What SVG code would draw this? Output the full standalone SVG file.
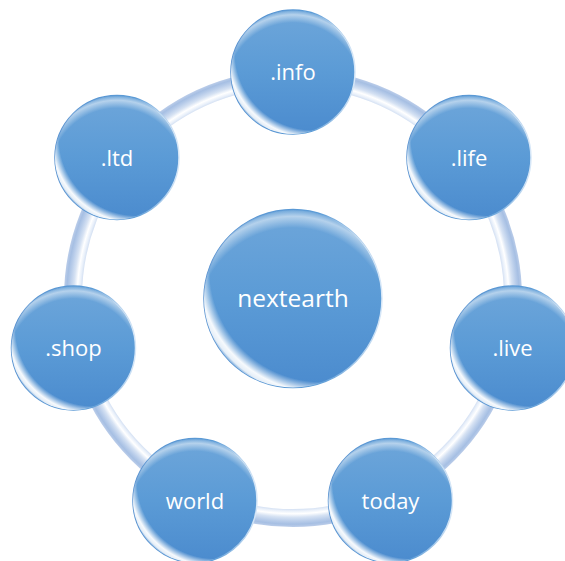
<svg xmlns="http://www.w3.org/2000/svg" width="565" height="561" viewBox="0 0 565 561">
  <defs>
    <!-- tube shading across the ring, measured outward from the hub -->
    <radialGradient id="tube" gradientUnits="userSpaceOnUse" cx="293" cy="298" r="232">
      <stop offset="0.905" stop-color="#c9d8ef"/>
      <stop offset="0.918" stop-color="#e9f0fa"/>
      <stop offset="0.930" stop-color="#ffffff"/>
      <stop offset="0.945" stop-color="#d6e2f3"/>
      <stop offset="0.962" stop-color="#b9cdea"/>
      <stop offset="0.975" stop-color="#a6bfe3"/>
      <stop offset="0.985" stop-color="#b7cae8"/>
    </radialGradient>
    <!-- bubble body -->
    <linearGradient id="body" x1="0" y1="0" x2="0" y2="1">
      <stop offset="0" stop-color="#6ea6da"/>
      <stop offset="0.5" stop-color="#5b9bd6"/>
      <stop offset="1" stop-color="#4b8bce"/>
    </linearGradient>
    <!-- top crescent sheen -->
    <radialGradient id="sheenTop" cx="0.5" cy="0.64" r="0.64">
      <stop offset="0.84" stop-color="#ffffff" stop-opacity="0"/>
      <stop offset="0.94" stop-color="#ffffff" stop-opacity="0.5"/>
      <stop offset="0.985" stop-color="#ffffff" stop-opacity="0.1"/>
      <stop offset="1" stop-color="#ffffff" stop-opacity="0"/>
    </radialGradient>
    <!-- lower-left glossy reflection -->
    <radialGradient id="sheenLow" cx="0.66" cy="0.34" r="0.73">
      <stop offset="0.86" stop-color="#ffffff" stop-opacity="0"/>
      <stop offset="0.94" stop-color="#ffffff" stop-opacity="0.95"/>
      <stop offset="0.975" stop-color="#ffffff" stop-opacity="0.85"/>
      <stop offset="1" stop-color="#ffffff" stop-opacity="0.15"/>
    </radialGradient>
    <!-- rim: pale on the right side -->
    <linearGradient id="rim" x1="0" y1="0" x2="1" y2="0">
      <stop offset="0" stop-color="#5892d0"/>
      <stop offset="0.65" stop-color="#5b9bd6"/>
      <stop offset="1" stop-color="#d8e8f8"/>
    </linearGradient>
    <style>
      .body { fill: url(#body); stroke: url(#rim); stroke-width: 1.5; }
      .top { fill: url(#sheenTop); }
      .low { fill: url(#sheenLow); }
      .lbl { font-family: "Open Sans", "Liberation Sans", sans-serif; font-size: 22px; fill: #ffffff; text-anchor: middle; }
      .hub { font-size: 24.5px; }
    </style>
  </defs>

  <rect width="565" height="561" fill="#ffffff"/>

  <!-- ring that links the outer bubbles -->
  <g id="connectors">
    <circle cx="293" cy="298" r="220" fill="none" stroke="url(#tube)" stroke-width="18"/>
  </g>

  <g id="hub">
    <circle class="body" cx="293" cy="298.5" r="89"/>
    <circle class="top" cx="293" cy="298.5" r="89"/>
    <circle class="low" cx="293" cy="298.5" r="89"/>
    <text class="lbl hub" x="293" y="307">nextearth</text>
  </g>

  <g id="info">
    <circle class="body" cx="293" cy="72" r="62"/>
    <circle class="top" cx="293" cy="72" r="62"/>
    <circle class="low" cx="293" cy="72" r="62"/>
    <text class="lbl" x="293" y="80">.info</text>
  </g>

  <g id="life">
    <circle class="body" cx="469" cy="157.5" r="62"/>
    <circle class="top" cx="469" cy="157.5" r="62"/>
    <circle class="low" cx="469" cy="157.5" r="62"/>
    <text class="lbl" x="469" y="165.5">.life</text>
  </g>

  <g id="live">
    <circle class="body" cx="512.5" cy="348" r="62"/>
    <circle class="top" cx="512.5" cy="348" r="62"/>
    <circle class="low" cx="512.5" cy="348" r="62"/>
    <text class="lbl" x="512.5" y="356">.live</text>
  </g>

  <g id="today">
    <circle class="body" cx="390.5" cy="500.5" r="62"/>
    <circle class="top" cx="390.5" cy="500.5" r="62"/>
    <circle class="low" cx="390.5" cy="500.5" r="62"/>
    <text class="lbl" x="390.5" y="508.5">today</text>
  </g>

  <g id="world">
    <circle class="body" cx="195" cy="500.5" r="62"/>
    <circle class="top" cx="195" cy="500.5" r="62"/>
    <circle class="low" cx="195" cy="500.5" r="62"/>
    <text class="lbl" x="195" y="508.5">world</text>
  </g>

  <g id="shop">
    <circle class="body" cx="73.5" cy="348" r="62"/>
    <circle class="top" cx="73.5" cy="348" r="62"/>
    <circle class="low" cx="73.5" cy="348" r="62"/>
    <text class="lbl" x="73.5" y="356">.shop</text>
  </g>

  <g id="ltd">
    <circle class="body" cx="117" cy="157.5" r="62"/>
    <circle class="top" cx="117" cy="157.5" r="62"/>
    <circle class="low" cx="117" cy="157.5" r="62"/>
    <text class="lbl" x="117" y="165.5">.ltd</text>
  </g>
</svg>
